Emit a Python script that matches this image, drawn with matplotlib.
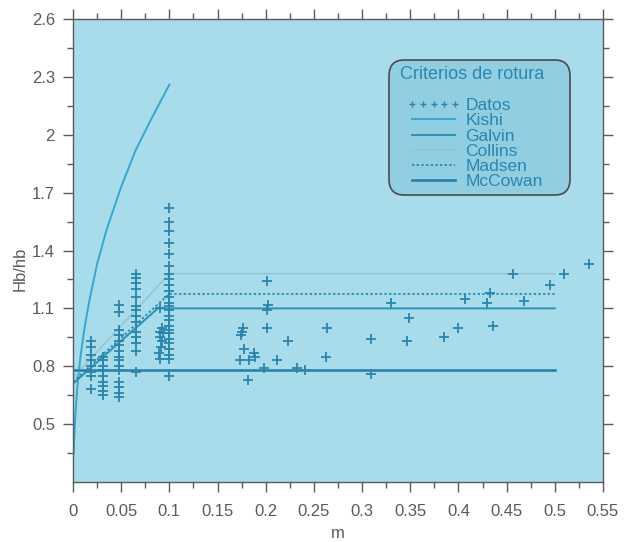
import matplotlib
matplotlib.use("Agg")
import matplotlib.pyplot as plt
from matplotlib.lines import Line2D
from matplotlib.legend_handler import HandlerLine2D

plt.rcParams['font.family'] = ['Liberation Sans', 'DejaVu Sans']

# Measured breaking data (beach slope m, breaker index Hb/hb)
datos_m = (
    [0.019] * 8
    + [0.031] * 9
    + [0.048] * 15
    + [0.065] * 14
    + [0.090, 0.092, 0.090, 0.093, 0.090, 0.092, 0.091, 0.089, 0.090]
    + [0.100] * 25
    + [0.201, 0.202, 0.201, 0.201, 0.176, 0.175, 0.174, 0.177, 0.188, 0.189,
       0.173, 0.183, 0.182, 0.198, 0.212, 0.223, 0.232, 0.241, 0.264, 0.263,
       0.309, 0.309, 0.330, 0.349, 0.347, 0.385, 0.400, 0.407, 0.430, 0.433,
       0.436, 0.457, 0.468, 0.495, 0.510, 0.535]
)
datos_h = (
    [0.93, 0.90, 0.86, 0.83, 0.80, 0.77, 0.75, 0.68]
    + [0.85, 0.83, 0.80, 0.78, 0.75, 0.72, 0.70, 0.67, 0.65]
    + [1.12, 1.08, 0.99, 0.96, 0.93, 0.91, 0.88, 0.85, 0.83, 0.80, 0.78,
       0.72, 0.69, 0.66, 0.64]
    + [1.28, 1.26, 1.23, 1.20, 1.16, 1.11, 1.09, 1.06, 1.03, 0.98, 0.95,
       0.92, 0.88, 0.77]
    + [1.10, 1.00, 0.98, 0.97, 0.95, 0.93, 0.90, 0.87, 0.84]
    + [1.62, 1.55, 1.50, 1.44, 1.38, 1.32, 1.28, 1.25, 1.22, 1.19, 1.16,
       1.13, 1.11, 1.09, 1.06, 1.04, 1.01, 0.99, 0.97, 0.94, 0.92, 0.89,
       0.86, 0.84, 0.75]
    + [1.24, 1.12, 1.09, 1.00, 1.00, 0.98, 0.96, 0.89, 0.87, 0.85,
       0.83, 0.83, 0.73, 0.79, 0.83, 0.93, 0.79, 0.78, 1.00, 0.85,
       0.94, 0.76, 1.13, 1.05, 0.93, 0.95, 1.00, 1.15, 1.13, 1.18,
       1.01, 1.28, 1.14, 1.22, 1.28, 1.33]
)

# Breaking criteria curves
kishi_m = [0.0008, 0.0015, 0.003, 0.005, 0.008, 0.012, 0.017, 0.025,
           0.035, 0.05, 0.065, 0.08, 0.1]
kishi_h = [0.35, 0.45, 0.59, 0.72, 0.86, 1.00, 1.14, 1.33,
           1.51, 1.73, 1.92, 2.07, 2.26]

galvin_m = [0.0, 0.088, 0.5]
galvin_h = [0.71, 1.10, 1.10]

collins_m = [0.0, 0.1, 0.5]
collins_h = [0.74, 1.28, 1.28]

madsen_m = [0.0, 0.1, 0.5]
madsen_h = [0.72, 1.175, 1.175]

mccowan_m = [0.0, 0.5]
mccowan_h = [0.78, 0.78]

x_ticks = [0, 0.05, 0.1, 0.15, 0.2, 0.25, 0.3, 0.35, 0.4, 0.45, 0.5, 0.55]
x_labels = ['0', '0.05', '0.1', '0.15', '0.2', '0.25', '0.3', '0.35', '0.4',
            '0.45', '0.5', '0.55']
y_ticks = [0.5, 0.8, 1.1, 1.4, 1.7, 2.0, 2.3, 2.6]
y_labels = ['0.5', '0.8', '1.1', '1.4', '1.7', '2', '2.3', '2.6']

BG = '#a9dcea'
GRAY = '#5a5a5a'
C_DATA = '#2a85ad'
C_KISHI = '#36a6d0'
C_GALVIN = '#2b92bb'
C_COLLINS = '#93c4d4'
C_MADSEN = '#2b8fb8'
C_MCCOWAN = '#2a82ab'
C_TEXT = '#2a86b0'

fig = plt.figure(figsize=(6.32, 5.42), dpi=100)
ax = fig.add_axes([0.1155, 0.1107, 0.8386, 0.8542])
ax.set_facecolor(BG)

ax.plot(kishi_m, kishi_h, color=C_KISHI, lw=1.4, label='Kishi')
ax.plot(galvin_m, galvin_h, color=C_GALVIN, lw=1.4, label='Galvin')
ax.plot(collins_m, collins_h, color=C_COLLINS, lw=1.1, label='Collins')
ax.plot(madsen_m, madsen_h, color=C_MADSEN, lw=1.4, ls=(0, (1.2, 1.2)), label='Madsen')
ax.plot(mccowan_m, mccowan_h, color=C_MCCOWAN, lw=1.9, label='McCowan')
ax.plot(datos_m, datos_h, ls='none', marker='+', ms=6.5, mew=1.3, color=C_DATA)

ax.set_xlim(0, 0.55)
ax.set_ylim(0.2, 2.6)
ax.set_xticks(x_ticks)
ax.set_xticklabels(x_labels)
ax.set_yticks(y_ticks)
ax.set_yticklabels(y_labels)
ax.set_xticks([v + 0.025 for v in x_ticks[:-1]], minor=True)
ax.set_yticks([0.35] + [v + 0.15 for v in y_ticks[:-1]], minor=True)

ax.tick_params(which='both', direction='out', colors=GRAY, labelsize=12,
               top=True, right=True, width=1.0)
ax.tick_params(which='major', length=7)
ax.tick_params(which='minor', length=4)
ax.tick_params(axis='x', which='major', pad=9)
ax.tick_params(axis='y', which='major', pad=6)
for s in ax.spines.values():
    s.set_color(GRAY)
    s.set_linewidth(1.0)

ax.set_xlabel('m', fontsize=12, color=GRAY, labelpad=5)
ax.set_ylabel('Hb/hb', fontsize=12, color=GRAY)
ax.yaxis.set_label_coords(-0.085, 0.46)

datos_proxy = Line2D([], [], ls='none', marker='+', ms=4, mew=1.0, color=C_DATA)
handles, labels = ax.get_legend_handles_labels()
handles = [datos_proxy] + handles
labels = ['Datos'] + labels
leg = ax.legend(handles, labels, title=' Criterios de rotura\n', loc='upper left',
                bbox_to_anchor=(0.596, 0.635, 0.342, 0.2765), mode='expand',
                borderaxespad=0, fontsize=12.5, title_fontsize=13,
                alignment='left', numpoints=5, handlelength=3.77,
                handletextpad=0.3, labelspacing=0.0, borderpad=0.35,
                handler_map={Line2D: HandlerLine2D(xpad=0.69)},
                fancybox=True, framealpha=1.0, labelcolor=C_TEXT)
title = leg.get_title()
title.set_color(C_TEXT)
title.set_linespacing(0.85)
frame = leg.get_frame()
frame.set_facecolor('#92cee1')
frame.set_edgecolor('#4a4a4a')
frame.set_linewidth(1.2)
frame.set_boxstyle('round,pad=0,rounding_size=0.9')

fig.savefig('out.png', dpi=100, facecolor='white')
